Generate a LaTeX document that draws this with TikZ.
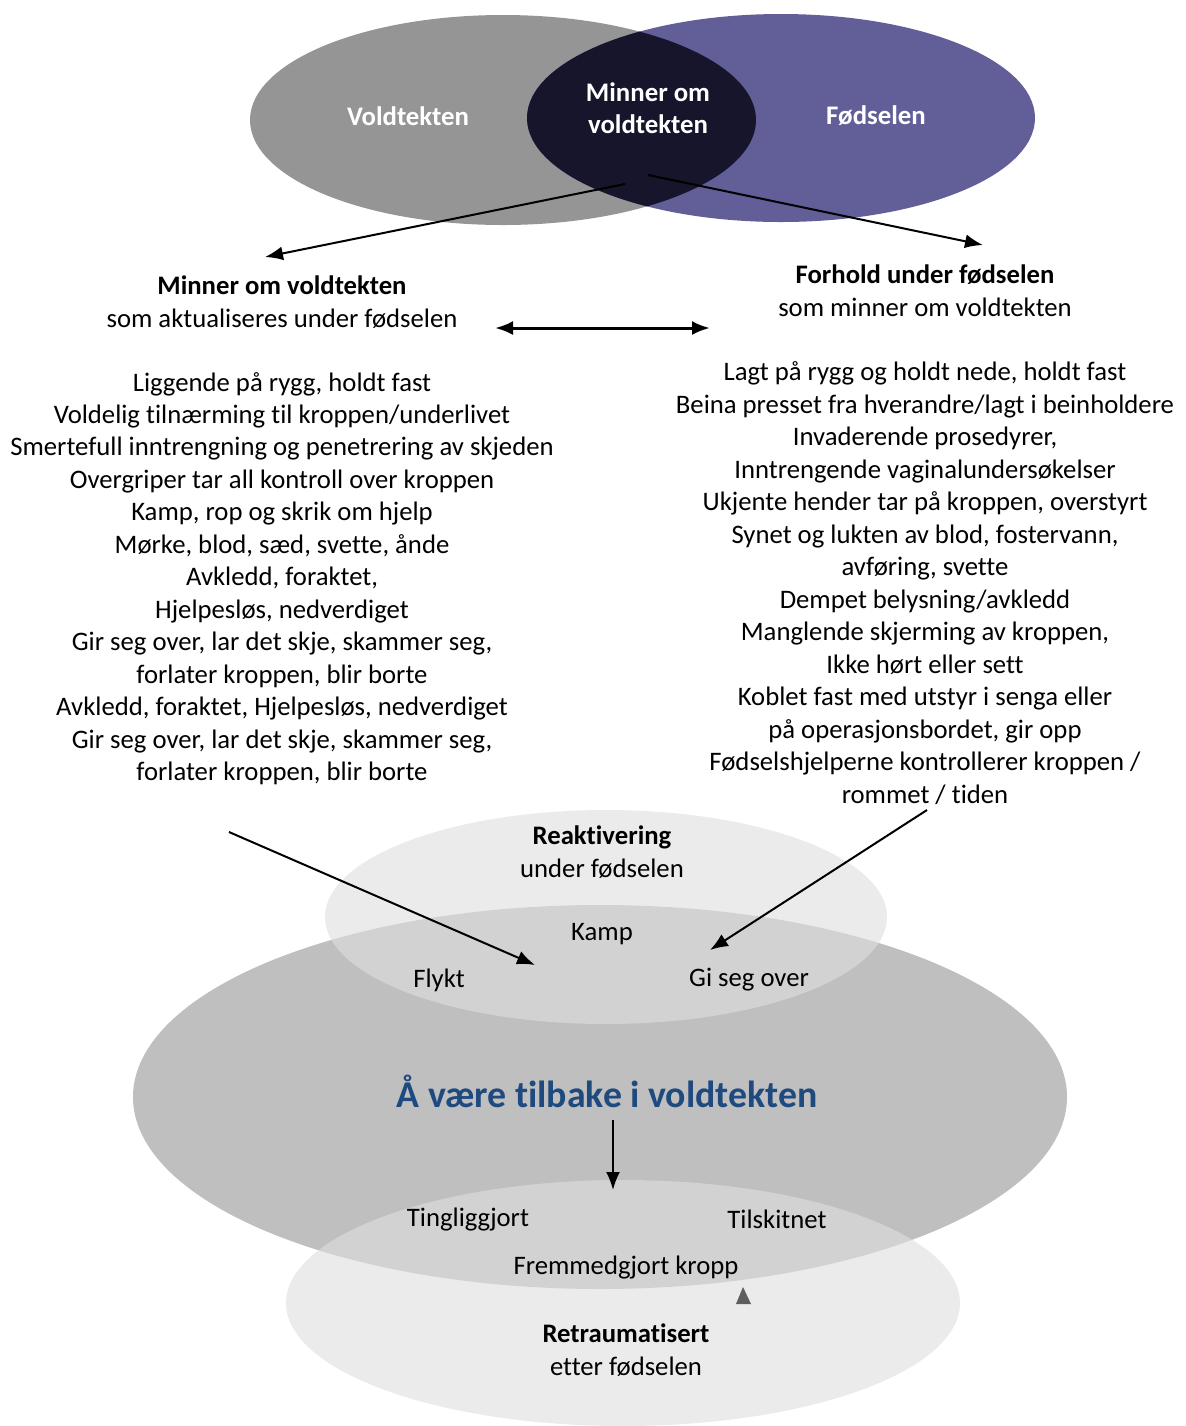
\documentclass[tikz,border=0pt]{standalone}
\usepackage{fontspec}
\setmainfont[Ligatures=NoCommon]{Carlito}
\usetikzlibrary{arrows.meta}
\definecolor{rapegray}{HTML}{959595}
\definecolor{birthblue}{HTML}{615E98}
\definecolor{overlapdark}{HTML}{16152B}
\definecolor{backgray}{HTML}{BFBFBF}
\definecolor{titleblue}{HTML}{1F4A7F}

\begin{document}
\begin{tikzpicture}[x=0.5pt,y=-0.5pt,
  every node/.style={font=\fontsize{13.35}{16.25}\selectfont},
  venn/.style={font=\fontsize{13.4}{16.25}\selectfont\bfseries,text=white,align=center},
  block/.style={align=center,anchor=north},
  arr/.style={-{Latex[length=9pt,width=7pt]},line width=1pt}]
  \useasboundingbox (0,0) rectangle (1186,1426);
  % top venn
  \fill[rapegray] (503,120) ellipse (253 and 105);
  \fill[birthblue] (781,118) ellipse (254 and 104);
  \begin{scope}
    \clip (503,120) ellipse (253 and 105);
    \fill[overlapdark] (781,118) ellipse (254 and 104);
  \end{scope}
  \node[venn] (rape) at (408,116) {Voldtekten};
  \node[venn] (reminder) at (648,108) {Minner om\\voldtekten};
  \node[venn] (birth) at (876,116) {Fødselen};
  % bottom ellipses
  \fill[backgray] (600,1097) ellipse (467 and 192);
  \fill[black!12.5,opacity=.62] (606,917) ellipse (281 and 107);
  \fill[black!12.5,opacity=.62] (623,1303) ellipse (337 and 123);
  \fill[black!63] (736,1304) -- (751,1304) -- (743,1287) -- cycle;
  % left column
  \node[block] (memhead) at (282,269) {\textbf{Minner om voldtekten}\\som aktualiseres under fødselen};
  \node[block] (memlist) at (282,365) {Liggende på rygg, holdt fast\\
    Voldelig tilnærming til kroppen/underlivet\\
    Smertefull inntrengning og penetrering av skjeden\\
    Overgriper tar all kontroll over kroppen\\
    Kamp, rop og skrik om hjelp\\
    Mørke, blod, sæd, svette, ånde\\
    Avkledd, foraktet,\\
    Hjelpesløs, nedverdiget\\
    Gir seg over, lar det skje, skammer seg,\\
    forlater kroppen, blir borte\\
    Avkledd, foraktet, Hjelpesløs, nedverdiget\\
    Gir seg over, lar det skje, skammer seg,\\
    forlater kroppen, blir borte};
  % right column
  \node[block] (condhead) at (925,258) {\textbf{Forhold under fødselen}\\som minner om voldtekten};
  \node[block] (condlist) at (925,355) {Lagt på rygg og holdt nede, holdt fast\\
    Beina presset fra hverandre/lagt i beinholdere\\
    Invaderende prosedyrer,\\
    Inntrengende vaginalundersøkelser\\
    Ukjente hender tar på kroppen, overstyrt\\
    Synet og lukten av blod, fostervann,\\
    avføring, svette\\
    Dempet belysning/avkledd\\
    Manglende skjerming av kroppen,\\
    Ikke hørt eller sett\\
    Koblet fast med utstyr i senga eller\\
    på operasjonsbordet, gir opp\\
    Fødselshjelperne kontrollerer kroppen /\\
    rommet / tiden};
  % reactivation
  \node[block] (react) at (602,819) {\textbf{Reaktivering}\\under fødselen};
  \node (fight) at (602,934) {Kamp};
  \node (flight) at (439,980) {Flykt};
  \node (yield) at (749,980) {Gi seg over};
  \node[font=\fontsize{18.9}{22}\selectfont\bfseries,text=titleblue] (back) at (607,1091) {Å være tilbake i voldtekten};
  \node (object) at (468,1220) {Tingliggjort};
  \node (soiled) at (777,1219) {Tilskitnet};
  \node (alien) at (626,1268) {Fremmedgjort kropp};
  \node[block] (retrauma) at (626,1317) {\textbf{Retraumatisert}\\etter fødselen};
  % connectors
  \coordinate (splitL) at (625,184);
  \coordinate (splitR) at (648,175);
  \coordinate (memtip) at (265,257);
  \coordinate (condtip) at (983,245);
  \draw[arr] (splitL) -- (memtip);
  \draw[arr] (splitR) -- (condtip);
  \coordinate (linkL) at (495,328);
  \coordinate (linkR) at (710,328);
  \draw[{Latex[length=9pt,width=7pt]}-{Latex[length=9pt,width=7pt]},line width=1.5pt] (linkL) -- (linkR);
  \coordinate (memfoot) at (229,832);
  \coordinate (condfoot) at (927,810);
  \coordinate (flighttip) at (535,965);
  \coordinate (yieldtip) at (710,950);
  \draw[arr] (memfoot) -- (flighttip);
  \draw[arr] (condfoot) -- (yieldtip);
  \coordinate (backfoot) at (613,1120);
  \coordinate (alientip) at (613,1190);
  \draw[arr] (backfoot) -- (alientip);
\end{tikzpicture}
\end{document}
